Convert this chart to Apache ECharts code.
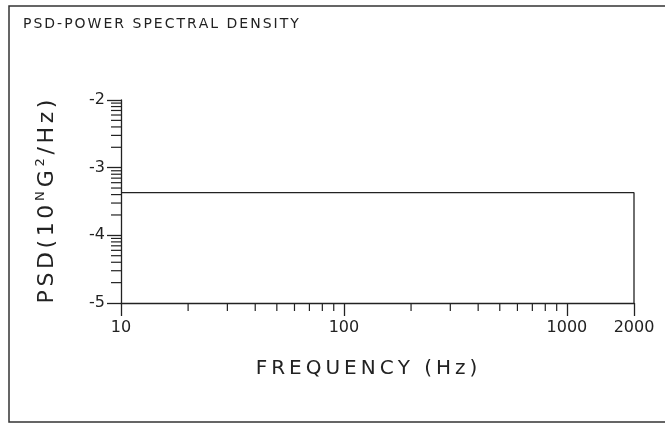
<!DOCTYPE html>
<html>
<head>
<meta charset="utf-8">
<title>PSD</title>
<script src="https://cdn.jsdelivr.net/npm/echarts@6/dist/echarts.min.js"></script>
<style>
  html, body { margin: 0; padding: 0; background: #fff; }
  #chart { width: 665px; height: 423px; }
</style>
</head>
<body>
<div id="chart"></div>
<script>
// frequency (Hz) and PSD exponent of the profile outline
const freqs = [10, 2000, 2000];
const psd = [-3.37, -3.37, -5];
// tick layout
const xMinorTicks = [20, 30, 40, 50, 60, 70, 80, 90, 200, 300, 400, 500, 600, 700, 800, 900];
const yDecades = [-5, -4, -3];
const yMinorSteps = [2, 3, 4, 5, 6, 7, 8, 9];

const ink = "#222";
const font = "DejaVu Sans";

// spread letters out like the plotter font
function spaced(s, style) {
  return s.split("").map(c => "{" + style + "|" + c + "}").join("");
}

const yMinorTicks = [];
yDecades.forEach(d => {
  yMinorSteps.forEach(k => yMinorTicks.push(d + Math.log10(k)));
});

const chart = echarts.init(document.getElementById("chart"));

const option = {
  animation: false,
  backgroundColor: "#fff",
  title: {
    text: spaced("PSD-POWER SPECTRAL DENSITY", "t"),
    left: 17,
    top: 12,
    textStyle: {
      fontWeight: "normal",
      rich: {
        t: { fontFamily: font, fontSize: 14, fontWeight: "normal", color: ink, padding: [0, 1, 0, 1] }
      }
    }
  },
  graphic: [
    {
      type: "rect",
      shape: { x: 9, y: 6, width: 700, height: 416 },
      style: { fill: "none", stroke: "#333", lineWidth: 1.5 }
    }
  ],
  grid: { left: 121, right: 31, top: 100, bottom: 120 },
  xAxis: {
    type: "log",
    logBase: 10,
    min: 10,
    max: 2000,
    name: spaced("FREQUENCY (Hz)", "n"),
    nameLocation: "middle",
    nameGap: 56,
    nameTextStyle: {
      padding: [0, 22, 0, 0],
      rich: {
        n: { fontFamily: font, fontSize: 20, color: ink, padding: [0, 2, 0, 2] }
      }
    },
    axisLine: { lineStyle: { color: ink, width: 1.3 } },
    axisTick: { length: 13, lineStyle: { color: ink, width: 1.3 } },
    axisLabel: {
      fontFamily: font,
      fontSize: 16,
      color: ink,
      margin: 17,
      formatter: v => String(Math.round(v))
    },
    splitLine: { show: false }
  },
  yAxis: {
    type: "value",
    min: -5,
    max: -2,
    interval: 1,
    name: "{m|P}{m|S}{m|D}{m|(}{m|1}{m|0}{s|N}{m|G}{s|2}{m|/}{m|H}{m|z}{m|)}",
    nameLocation: "middle",
    nameRotate: 90,
    nameGap: 60,
    nameTextStyle: {
      padding: [0, 0, 0, 0],
      rich: {
        m: { fontFamily: font, fontSize: 22, color: ink, padding: [0, 1.8, 0, 1.8] },
        s: { fontFamily: font, fontSize: 13, color: ink, padding: [0, 2, 14, 2] }
      }
    },
    axisLine: { show: true, lineStyle: { color: ink, width: 1.3 } },
    axisTick: { show: true, length: 14, lineStyle: { color: ink, width: 1.3 } },
    axisLabel: { fontFamily: font, fontSize: 16, color: ink, margin: 16 },
    splitLine: { show: false }
  },
  series: [
    {
      type: "line",
      data: freqs.map((f, i) => [f, psd[i]]),
      showSymbol: false,
      lineStyle: { color: ink, width: 1.3 },
      silent: true
    },
    {
      type: "custom",
      silent: true,
      data: xMinorTicks.map(v => [v, -5]),
      renderItem: (params, api) => {
        const p = api.coord([api.value(0), api.value(1)]);
        return {
          type: "line",
          shape: { x1: p[0], y1: p[1], x2: p[0], y2: p[1] + 8 },
          style: { stroke: ink, lineWidth: 1.2 }
        };
      }
    },
    {
      type: "custom",
      silent: true,
      data: yMinorTicks.map(v => [10, v]),
      renderItem: (params, api) => {
        const p = api.coord([api.value(0), api.value(1)]);
        return {
          type: "line",
          shape: { x1: p[0] - 10, y1: p[1], x2: p[0], y2: p[1] },
          style: { stroke: ink, lineWidth: 1.2 }
        };
      }
    }
  ]
};

chart.setOption(option);
</script>
</body>
</html>
